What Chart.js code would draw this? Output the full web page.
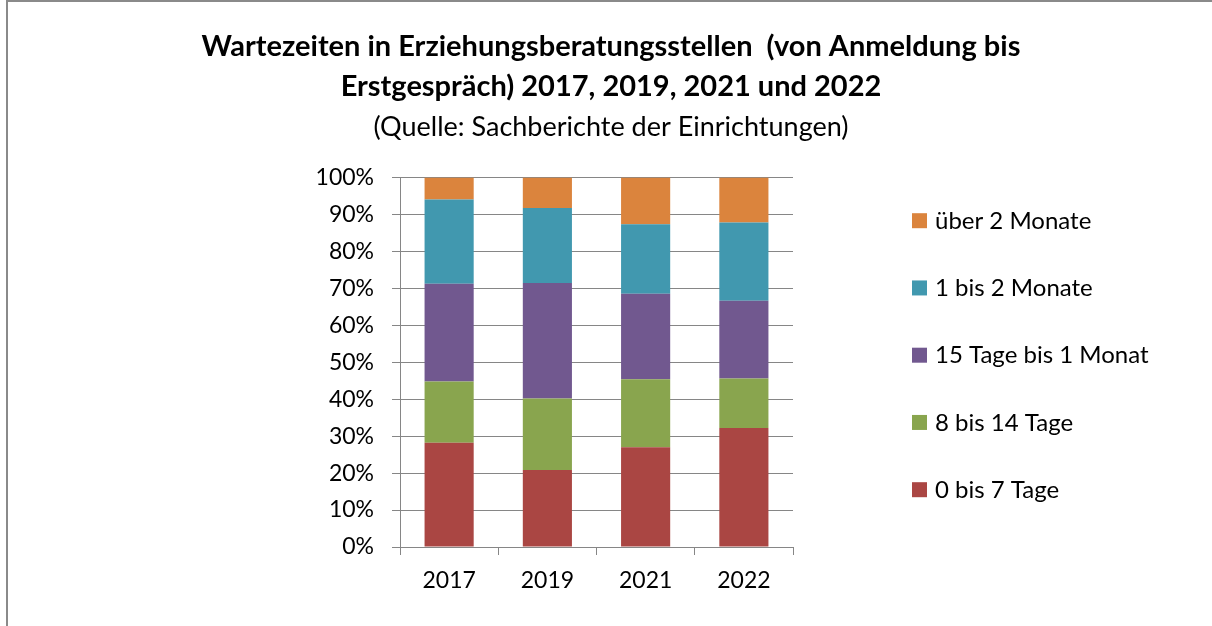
<!DOCTYPE html>
<html>
<head>
<meta charset="utf-8">
<script src="https://cdn.jsdelivr.net/npm/chart.js@4"></script>
<style>
  html, body { margin: 0; padding: 0; background: #fff; overflow: hidden; }
  .frame {
    position: absolute; left: 6px; top: 0;
    width: 1206px; height: 624px;
    border-left: 2px solid #8a8a8a; border-top: 2px solid #8a8a8a;
  }
  canvas { display: block; }
</style>
</head>
<body>
<div class="frame"><canvas id="chart" width="1206" height="624"></canvas></div>
<script>
var years = ["2017", "2019", "2021", "2022"];

var tage0bis7 = [28.2, 20.8, 27.0, 32.2];
var tage8bis14 = [16.6, 19.4, 18.4, 13.4];
var tage15bis1Monat = [26.4, 31.2, 23.1, 21.0];
var monate1bis2 = [22.8, 20.3, 18.8, 21.2];
var ueber2Monate = [6.0, 8.3, 12.7, 12.2];

var seriesNames = ["0 bis 7 Tage", "8 bis 14 Tage", "15 Tage bis 1 Monat", "1 bis 2 Monate", "über 2 Monate"];
var seriesColors = ["#AA4643", "#89A54E", "#71588F", "#4198AF", "#DB843D"];
var seriesValues = [tage0bis7, tage8bis14, tage15bis1Monat, monate1bis2, ueber2Monate];

var yTicks = [0, 10, 20, 30, 40, 50, 60, 70, 80, 90, 100];

var fontFamily = "Lato, 'Open Sans', sans-serif";
var gridColor = "#868686";

var datasets = seriesNames.map(function (name, i) {
  return {
    label: name,
    data: seriesValues[i],
    backgroundColor: seriesColors[i],
    borderWidth: 0,
    barPercentage: 0.5,
    categoryPercentage: 1,
    yAxisID: "y",
  };
});

// legend on the right, drawn from the datasets (top item = last series)
var sideLegend = {
  id: "sideLegend",
  afterDraw: function (chart) {
    var ctx = chart.ctx;
    var area = chart.chartArea;
    var items = chart.data.datasets.slice().reverse();
    var step = 67.25;
    var startY = (area.top + area.bottom) / 2 - step * (items.length - 1) / 2 - 7.5;
    var x = area.right + 119;
    ctx.save();
    ctx.font = "24px " + fontFamily;
    ctx.textBaseline = "middle";
    items.forEach(function (ds, i) {
      var y = startY + i * step;
      ctx.fillStyle = ds.backgroundColor;
      ctx.fillRect(x, y - 7, 15, 15);
      ctx.fillStyle = "#000";
      ctx.fillText(ds.label, x + 23, y + 1);
    });
    ctx.restore();
  },
};

var ctx1 = document.getElementById("chart").getContext("2d");

var myChart = new Chart(ctx1, {
  type: "bar",
  data: { labels: years, datasets: datasets },
  options: {
    responsive: false,
    animation: false,
    layout: { padding: { left: 0, right: 0, top: 0, bottom: 19.4 } },
    plugins: {
      legend: { display: false },
      tooltip: { enabled: false },
      title: {
        display: true,
        text: ["Wartezeiten in Erziehungsberatungsstellen  (von Anmeldung bis", "Erstgespräch) 2017, 2019, 2021 und 2022"],
        color: "#000",
        font: { family: fontFamily, size: 29, weight: "bold", lineHeight: 40 / 29 },
        padding: { top: 25, bottom: 4 },
      },
      subtitle: {
        display: true,
        text: "(Quelle: Sachberichte der Einrichtungen)",
        color: "#000",
        font: { family: fontFamily, size: 27, lineHeight: 1.2 },
        padding: { top: 0, bottom: 34 },
      },
    },
    scales: {
      x: {
        stacked: true,
        grid: { display: true, drawOnChartArea: false, drawTicks: true, tickLength: 8, color: gridColor, offset: true },
        border: { display: true, color: gridColor, width: 1 },
        ticks: { color: "#000", padding: 12, font: { family: fontFamily, size: 23 } },
      },
      y: {
        stacked: true,
        min: 0,
        max: 100,
        afterBuildTicks: function (scale) {
          scale.ticks = yTicks.map(function (v) { return { value: v }; });
        },
        afterFit: function (scale) { scale.width = 392; },
        grid: { color: gridColor, lineWidth: 1, tickLength: 8, drawTicks: true },
        border: { display: true, color: gridColor, width: 1 },
        ticks: {
          color: "#000",
          padding: 18,
          font: { family: fontFamily, size: 23 },
          callback: function (v) { return v + "%"; },
        },
      },
      // empty axis that only keeps the space for the legend on the right
      legendSpace: {
        type: "linear",
        position: "right",
        display: true,
        grid: { display: false, drawTicks: false },
        border: { display: false },
        ticks: { display: false },
        afterFit: function (scale) { scale.width = 421; },
      },
    },
  },
  plugins: [sideLegend],
});
</script>
</body>
</html>
